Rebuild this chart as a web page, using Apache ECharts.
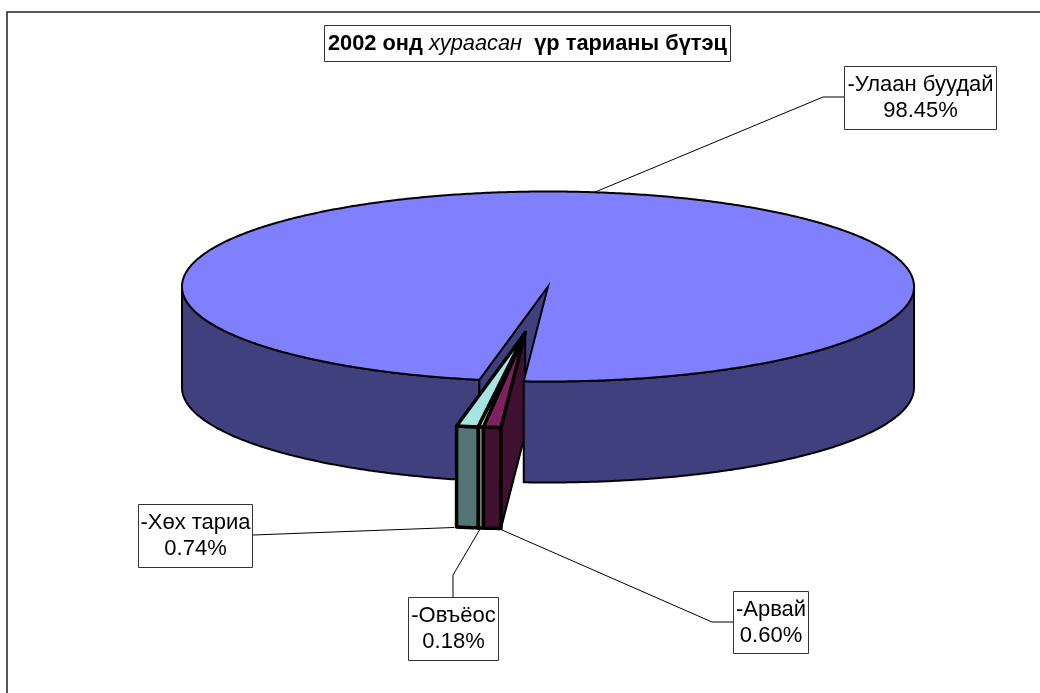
<!DOCTYPE html>
<html><head><meta charset="utf-8">
<style>html,body{margin:0;padding:0;background:#fff}#c{width:1040px;height:693px}</style>
<script src="https://cdn.jsdelivr.net/npm/echarts@6/dist/echarts.min.js"></script>
</head><body><div id="c"></div>
<script>
const names = ['-Арвай', '-Овъёос', '-Хөх тариа', '-Улаан буудай'];
const shares = [0.60, 0.18, 0.74, 98.45];
const shareLabels = ['0.60%', '0.18%', '0.74%', '98.45%'];
const topColors = ['#802060', '#FFFFCC', '#A6E6E2', '#8080FF'];
const sideColors = ['#401030', '#7F7F66', '#537573', '#40407F'];
const labelBoxes = [[733, 591, 75, 62], [408, 597, 90, 63], [138, 504, 114, 63], [844, 66, 152, 63]];
const elbows = [[712, 622, 733, 622], [453, 575, 453, 597], [253, 535, 253, 535], [823, 97, 844, 97]];
const anchorShift = [6, 0, -13, 0];

const pie = {cx: 548, cy: 286.5, rx: 366, ry: 95, depth: 101, startAngle: 183.8, explode: 0.49, perspectiveGain: 1.28};
const total = shares.reduce((a, b) => a + b, 0);
const sweeps = shares.map(v => echarts.number.linearMap(v, [0, total], [0, 360]) * pie.perspectiveGain);
sweeps[3] = 360 - sweeps[0] - sweeps[1] - sweeps[2];
const starts = [];
sweeps.reduce((a, s, i) => (starts[i] = a, a + s), pie.startAngle);
const gapEnd = starts[3];
const gapMid = (pie.startAngle + gapEnd) / 2;
const rad = d => d * Math.PI / 180;
const off = {x: pie.explode * pie.rx * Math.sin(rad(gapMid)), y: -pie.explode * pie.ry * Math.cos(rad(gapMid))};
const pt = (a, o, down) => [
  pie.cx + pie.rx * Math.sin(rad(a)) + (o ? off.x : 0),
  pie.cy - pie.ry * Math.cos(rad(a)) + (o ? off.y : 0) + (down ? pie.depth : 0)
];
const tip = (o, down) => [pie.cx + (o ? off.x : 0), pie.cy + (o ? off.y : 0) + (down ? pie.depth : 0)];
function arc(a0, a1, o, down) {
  const n = Math.max(2, Math.ceil(Math.abs(a1 - a0) * 2)), r = [];
  for (let i = 0; i <= n; i++) r.push(pt(a0 + (a1 - a0) * i / n, o, down));
  return r;
}
const poly = (points, fill, lw, z2, join) => ({type: 'polygon', z2, shape: {points},
  style: {fill, stroke: '#000', lineWidth: lw, lineJoin: join || 'round'}, silent: true});

function renderSlice(params, api) {
  const i = params.dataIndex, a0 = starts[i], a1 = a0 + sweeps[i], els = [];
  if (i === 3) {
    els.push(poly(arc(gapEnd, 270, false, false).concat(arc(270, gapEnd, false, true)), sideColors[3], 2, 1));
    els.push(poly([tip(false, false), pt(gapEnd, false, false), pt(gapEnd, false, true), tip(false, true)], sideColors[3], 2, 2));
    els.push(poly(arc(90, pie.startAngle, false, false).concat(arc(pie.startAngle, 90, false, true)), sideColors[3], 2, 4));
    els.push(poly([tip(false, false)].concat(arc(a0, a1, false, false)), topColors[3], 2, 5, 'miter'));
  } else {
    if (i === 0) {
      els.push(poly([pt(a0, true, false), pt(a0, true, true), tip(true, true), tip(true, false)], sideColors[0], 2, 3));
    }
    els.push(poly(arc(a0, a1, true, false).concat(arc(a1, a0, true, true)), sideColors[i], 3.5, 6));
    els.push(poly([tip(true, false)].concat(arc(a0, a1, true, false)), topColors[i], 3.5, 7));
  }
  const mid = a0 + sweeps[i] / 2;
  const anchor = pt(mid, i !== 3, i !== 3);
  const e = elbows[i], b = labelBoxes[i];
  els.push({type: 'polyline', z2: 8, silent: true,
    shape: {points: [[anchor[0] + anchorShift[i], anchor[1]], [e[0], e[1]], [e[2], e[3]]]},
    style: {fill: 'none', stroke: '#000', lineWidth: 1}});
  els.push({type: 'rect', z2: 9, silent: true, shape: {x: b[0] + .5, y: b[1] + .5, width: b[2], height: b[3]},
    style: {fill: '#fff', stroke: '#333', lineWidth: 1}});
  els.push({type: 'text', z2: 10, silent: true,
    style: {x: b[0] + b[2] / 2 + .5, y: b[1] + b[3] / 2 + .5, text: api.value(0) + '\n' + shareLabels[i],
      align: 'center', verticalAlign: 'middle', fill: '#000', lineHeight: 26,
      font: '22px "Liberation Sans", Arial, sans-serif'}});
  return {type: 'group', children: els};
}

const chart = echarts.init(document.getElementById('c'), null, {renderer: 'canvas'});
chart.setOption({
  animation: false,
  backgroundColor: '#fff',
  title: {
    left: 324, top: 25, borderColor: '#333', borderWidth: 1, padding: [7, 4, 7, 4],
    text: '{b|2002 онд }{i|хураасан}{b|  үр тарианы бүтэц}',
    textStyle: {rich: {
      b: {fontFamily: '"Liberation Sans"', fontWeight: 'bold', fontSize: 21.8, color: '#000', lineHeight: 23},
      i: {fontFamily: '"Liberation Sans"', fontStyle: 'italic', fontWeight: 'normal', fontSize: 21.8, color: '#000', lineHeight: 23}
    }}
  },
  graphic: [{type: 'polyline', silent: true, shape: {points: [[7, 693], [7, 12], [1040, 12]]},
    style: {fill: 'none', stroke: '#222', lineWidth: 1.5}}],
  series: [{
    type: 'custom', coordinateSystem: 'none', renderItem: renderSlice, clip: false,
    data: names.map((n, i) => [n, shares[i]])
  }]
});
</script></body></html>
